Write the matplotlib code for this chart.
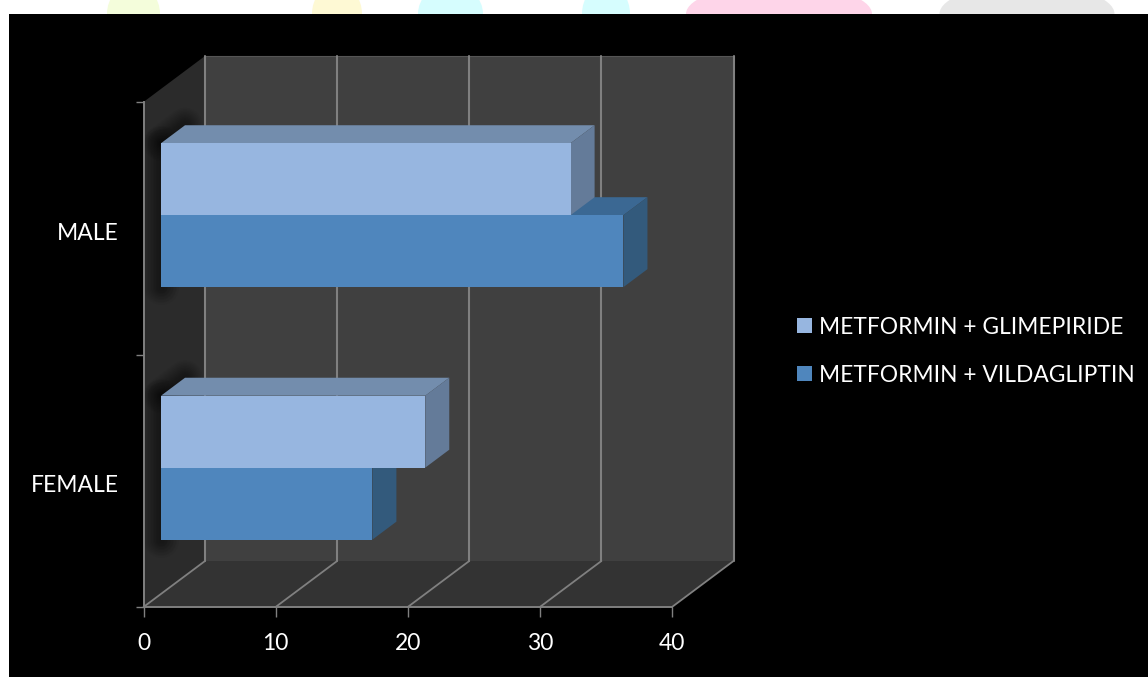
import matplotlib
matplotlib.use("Agg")
import matplotlib.pyplot as plt
from matplotlib.patches import Polygon, Rectangle, Ellipse
from matplotlib.transforms import Affine2D
from matplotlib.lines import Line2D

plt.rcParams['font.family'] = ['Lato', 'DejaVu Sans']

# Chart values
categories = ["FEMALE", "MALE"]
series_names = ["METFORMIN + GLIMEPIRIDE", "METFORMIN + VILDAGLIPTIN"]
glimepiride = [20, 31]
vildagliptin = [16, 35]
x_ticks = [0, 10, 20, 30, 40]

W, H = 1148, 677
fig = plt.figure(figsize=(W / 100, H / 100), dpi=100, facecolor="white")

# Slide backdrop: pale shapes along the top edge and the black panel
bg = fig.add_axes([0, 0, 1, 1], zorder=0)
bg.set_xlim(0, W)
bg.set_ylim(H, 0)
bg.axis("off")
for cx, wd, colour in [(133.5, 53, "#F4FDDB"), (337, 50, "#FEF9D4"), (450.5, 65, "#D6FDFE"),
                       (606, 48, "#D6FDFE"), (779, 186, "#FED5E9"), (1027, 175, "#E7E7E7")]:
    bg.add_patch(Ellipse((cx, 14), wd, 60, fc=colour, ec="none"))
bg.add_patch(Rectangle((9, 14), W - 9, H - 14, fc="black", ec="none"))

# Front plane of the plot box; depth is added as a pixel offset
ax = fig.add_axes([143.5 / W, 1 - 607 / H, (672 - 143.5) / W, (607 - 102) / H], zorder=1)
ax.patch.set_alpha(0)
ax.set_xlim(0, 40)
ax.set_ylim(0, 2)

DEPTH_X, DEPTH_Y = 61.5, 46.0
BAR_NEAR, BAR_FAR = 0.285, 0.675
BAR_H = 0.285
GRID = "#808080"


def at_depth(frac):
    return ax.transData + Affine2D().translate(DEPTH_X * frac, DEPTH_Y * frac)


def quad(points, colour, fracs, z):
    """Fill a polygon whose vertices each sit at their own depth fraction."""
    verts = [at_depth(f).transform(p) for p, f in zip(points, fracs)]
    ax.add_patch(Polygon(verts, closed=True, transform=None, fc=colour, ec="none",
                         zorder=z, clip_on=False))


def seg(p0, f0, p1, f1, colour=GRID, lw=1.5, z=2, alpha=1.0):
    a = at_depth(f0).transform(p0)
    b = at_depth(f1).transform(p1)
    ax.add_line(Line2D([a[0], b[0]], [a[1], b[1]], transform=None, color=colour, lw=lw,
                       zorder=z, clip_on=False, alpha=alpha, solid_capstyle="round"))


# Walls and floor
quad([(0, 0), (0, 2), (0, 2), (0, 0)], "#2B2B2B", [0, 0, 1, 1], 1)
quad([(0, 0), (40, 0), (40, 0), (0, 0)], "#333333", [0, 0, 1, 1], 1)
quad([(0, 0), (40, 0), (40, 2), (0, 2)], "#404040", [1, 1, 1, 1], 1)
seg((0, 2), 1, (40, 2), 1, "#555555", 0.8)

# Grid lines on the back wall and across the floor
for v in x_ticks:
    seg((v, 0), 0, (v, 0), 1, lw=1.3)
    seg((v, 0), 1, (v, 2), 1)


def draw_bar(value, base, faces):
    top = base + BAR_H
    fracs_top = [BAR_NEAR, BAR_NEAR, BAR_FAR, BAR_FAR]
    front, lid, side = faces
    quad([(0, top), (value, top), (value, top), (0, top)], lid, fracs_top, 4)
    quad([(value, base), (value, top), (value, top), (value, base)], side, fracs_top, 4)
    ax.add_patch(Rectangle((0, base), value, BAR_H, transform=at_depth(BAR_NEAR), fc=front,
                           ec="none", zorder=5, clip_on=False))


# Soft shadow cast on the side wall by the left end of each bar
for c in range(len(categories)):
    centre = c + 0.5
    low, high = centre - BAR_H, centre + BAR_H
    for w in range(2, 36, 3):
        seg((0, low), BAR_NEAR, (0, high), BAR_NEAR, "black", w * 0.72, 3, 0.04)
        seg((0, high), BAR_NEAR, (0, high), BAR_FAR, "black", w * 0.72, 3, 0.04)

# Bars: the lower series first so the upper one sits over it
GLIM = ("#97B6E0", "#738DAD", "#647B99")
VILD = ("#4F86BD", "#3B6893", "#335A7C")
for c in range(len(categories)):
    draw_bar(vildagliptin[c], c + 0.5 - BAR_H, VILD)
for c in range(len(categories)):
    draw_bar(glimepiride[c], c + 0.5, GLIM)

# Axes: front edges, ticks and labels
for name in ("top", "right"):
    ax.spines[name].set_visible(False)
for name in ("left", "bottom"):
    ax.spines[name].set_color(GRID)
    ax.spines[name].set_linewidth(1.4)
    ax.spines[name].set_zorder(6)
ax.set_xticks(x_ticks)
ax.set_yticks([0, 1, 2])
ax.set_yticklabels([])
ax.set_yticks([0.5, 1.5], minor=True)
ax.set_yticklabels(categories, minor=True)
ax.tick_params(axis="x", which="major", length=7, width=1, color=GRID, labelcolor="white",
               labelsize=16.5, pad=12)
ax.tick_params(axis="y", which="major", length=6, width=1, color=GRID)
ax.tick_params(axis="y", which="minor", length=0, labelcolor="white", labelsize=16.5, pad=18)
for label in ax.get_yticklabels(minor=True):
    label.set_transform(label.get_transform() + Affine2D().translate(0, -3))

# Legend
for name, colour, y in zip(series_names, (GLIM[0], VILD[0]), (325.5, 373.5)):
    bg.add_patch(Rectangle((797, y - 7.5), 15, 15, fc=colour, ec="none"))
    bg.text(819, y + 2, name, color="white", fontsize=16.4, va="center", ha="left")

fig.savefig("out.png", dpi=100, facecolor=fig.get_facecolor())
